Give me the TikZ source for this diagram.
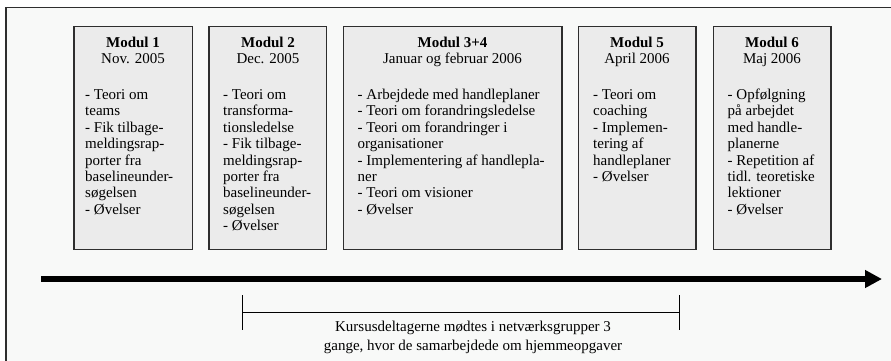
\documentclass[tikz,border=0pt]{standalone}
\usepackage{fontspec}
\setmainfont{Liberation Serif}
\usetikzlibrary{arrows.meta}
\definecolor{framebg}{HTML}{F8F9F8}
\definecolor{boxfill}{HTML}{EBEBEB}
\definecolor{boxline}{HTML}{2E2E2E}
\tikzset{
  modbox/.style={draw=boxline, line width=1.4pt, fill=boxfill, inner sep=0pt},
  headtxt/.style={anchor=north, align=center, inner sep=0pt, font=\fontsize{15}{16.6}\selectfont},
  listtxt/.style={anchor=north west, align=left, inner sep=0pt, font=\fontsize{15}{16.4}\selectfont},
  bottxt/.style={anchor=north, align=center, inner sep=0pt, font=\fontsize{15}{18.5}\selectfont},
  tline/.style={line width=6pt, -{Triangle[length=17pt,width=17pt]}},
  brk/.style={line width=1pt, black}
}
\begin{document}
\begin{tikzpicture}[x=1pt,y=-1pt]
\useasboundingbox (0,0) rectangle (891,360);
\fill[white] (0,0) rectangle (891,360);
\draw[boxline, line width=1.2pt, fill=framebg] (6,7.5) rectangle (900,370);
% boxes
\path[modbox] (74,26.5) rectangle (192.5,249.5) node[pos=0.5] (m1) {};
\path[modbox] (209,26.5) rectangle (326.5,249.5) node[pos=0.5] (m2) {};
\path[modbox] (343.5,26.5) rectangle (562,249.5) node[pos=0.5] (m3) {};
\path[modbox] (578.5,26.5) rectangle (696,249.5) node[pos=0.5] (m5) {};
\path[modbox] (713.5,26.5) rectangle (831,249.5) node[pos=0.5] (m6) {};
% headings (first baseline at y=47)
\node[headtxt] (h1) at (133,35.4) {\strut\textbf{Modul 1}\\Nov. 2005};
\node[headtxt] (h2) at (268,35.4) {\strut\textbf{Modul 2}\\Dec. 2005};
\node[headtxt] (h3) at (452.5,35.4) {\strut\textbf{Modul 3+4}\\Januar og februar 2006};
\node[headtxt] (h5) at (637,35.4) {\strut\textbf{Modul 5}\\April 2006};
\node[headtxt] (h6) at (772,35.4) {\strut\textbf{Modul 6}\\Maj 2006};
% lists (first baseline at y=99.3)
\node[listtxt] (l1) at (85,87.8) {\strut- Teori om\\teams\\- Fik tilbage-\\meldingsrap-\\porter fra\\baselineunder-\\søgelsen\\- Øvelser};
\node[listtxt] (l2) at (223,87.8) {\strut- Teori om\\transforma-\\tionsledelse\\- Fik tilbage-\\meldingsrap-\\porter fra\\baselineunder-\\søgelsen\\- Øvelser};
\node[listtxt] (l3) at (357.5,87.8) {\strut- Arbejdede med handleplaner\\- Teori om forandringsledelse\\- Teori om forandringer i\\organisationer\\- Implementering af handlepla-\\ner\\- Teori om visioner\\- Øvelser};
\node[listtxt] (l5) at (593,87.8) {\strut- Teori om\\coaching\\- Implemen-\\tering af\\handleplaner\\- Øvelser};
\node[listtxt] (l6) at (727.5,87.8) {\strut- Opfølgning\\på arbejdet\\med handle-\\planerne\\- Repetition af\\tidl. teoretiske\\lektioner\\- Øvelser};
% time line
\coordinate (ta) at (41,279);
\coordinate (tb) at (882,279);
\draw[tline] (ta) -- (tb);
% bracket
\coordinate (bl) at (242.7,312.3);
\coordinate (br) at (679.7,312.3);
\coordinate (blt) at (242.7,295);
\coordinate (blb) at (242.7,330);
\coordinate (brt) at (679.7,295);
\coordinate (brb) at (679.7,330);
\draw[brk] (bl) -- (br);
\draw[brk] (blt) -- (blb);
\draw[brk] (brt) -- (brb);
\node[bottxt] (nt) at (473,318.5) {\strut Kursusdeltagerne mødtes i netværksgrupper 3\\gange, hvor de samarbejdede om hjemmeopgaver};
\end{tikzpicture}
\end{document}
